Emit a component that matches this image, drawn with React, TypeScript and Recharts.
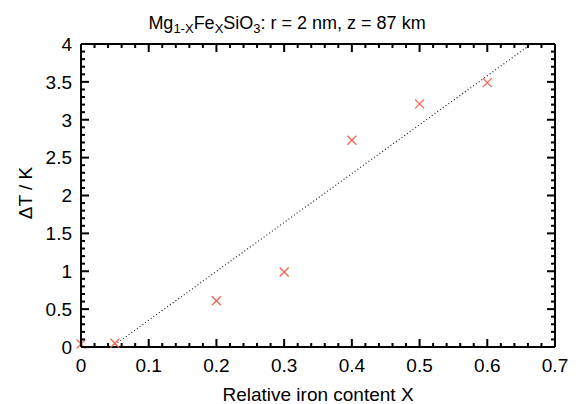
import React from 'react';
import { ComposedChart, Scatter, Line, XAxis, YAxis } from 'recharts';

// Measured points: relative iron content X vs temperature increase ΔT (K)
const ironContent = [0, 0.05, 0.2, 0.3, 0.4, 0.5, 0.6];
const deltaT = [0.04, 0.05, 0.61, 0.99, 2.73, 3.21, 3.49];

// Dotted linear fit (endpoints)
const fitX = [0.05, 0.665];
const fitY = [0.03, 4.0];

// Axis ticks
const xMajorTicks = [0, 0.1, 0.2, 0.3, 0.4, 0.5, 0.6, 0.7];
const yMajorTicks = [0, 0.5, 1, 1.5, 2, 2.5, 3, 3.5, 4];
const xMinorStep = 0.02;
const yMinorStep = 0.1;

const FONT = "'Liberation Sans', Arial, Helvetica, sans-serif";

const buildTicks = (majors: number[], step: number) => {
  const out: number[] = [];
  const max = majors[majors.length - 1];
  const n = Math.round(max / step);
  for (let i = 0; i <= n; i++) out.push(Math.round(i * step * 1000) / 1000);
  return out;
};
const xTicks = buildTicks(xMajorTicks, xMinorStep);
const yTicks = buildTicks(yMajorTicks, yMinorStep);
const isMajor = (v: number, majors: number[]) => majors.some((m) => Math.abs(m - v) < 1e-6);

const points = ironContent.map((x, i) => ({ x, y: deltaT[i] }));
const fitLine = fitX.map((x, i) => ({ x, y: fitY[i] }));

const MAJOR = 8;
const MINOR = 4;
const TICK_W = 2;
const TC = '#000';

const BottomTick = (props: any) => {
  const { x, y, payload } = props;
  const major = isMajor(payload.value, xMajorTicks);
  return (
    <g>
      <rect x={x - 1} y={y - (major ? MAJOR : MINOR)} width={TICK_W} height={major ? MAJOR : MINOR} fill={TC} />
      {major && (
        <text x={x} y={y + 24.5} textAnchor="middle" fontSize={19} fill="#000" stroke="none" fontFamily={FONT}>
          {String(Math.round(payload.value * 10) / 10)}
        </text>
      )}
    </g>
  );
};

const TopTick = (props: any) => {
  const { x, y, payload } = props;
  const major = isMajor(payload.value, xMajorTicks);
  return <rect x={x - 1} y={y} width={TICK_W} height={major ? MAJOR : MINOR} fill={TC} />;
};

const LeftTick = (props: any) => {
  const { x, y, payload } = props;
  const major = isMajor(payload.value, yMajorTicks);
  return (
    <g>
      <rect x={x} y={y - 1} width={major ? MAJOR : MINOR} height={TICK_W} fill={TC} />
      {major && (
        <text x={x - 9} y={y + 6.8} textAnchor="end" fontSize={19} fill="#000" stroke="none" fontFamily={FONT}>
          {String(Math.round(payload.value * 10) / 10)}
        </text>
      )}
    </g>
  );
};

const RightTick = (props: any) => {
  const { x, y, payload } = props;
  const major = isMajor(payload.value, yMajorTicks);
  return <rect x={x - (major ? MAJOR : MINOR)} y={y - 1} width={major ? MAJOR : MINOR} height={TICK_W} fill={TC} />;
};

const Cross = (props: any) => {
  const { cx, cy } = props;
  const s = 4.5;
  return (
    <g stroke="#f4664f" strokeWidth={1.3}>
      <line x1={cx - s} y1={cy - s} x2={cx + s} y2={cy + s} />
      <line x1={cx - s} y1={cy + s} x2={cx + s} y2={cy - s} />
    </g>
  );
};

export default function App() {
  return (
    <div style={{ position: 'absolute', left: 0, top: 0, width: 579, height: 404, background: '#fff' }}>
      <ComposedChart width={579} height={404} margin={{ top: 34, right: 14, bottom: 27, left: 21 }}>
        <XAxis xAxisId="bottom" dataKey="x" type="number" domain={[0, 0.7]} ticks={xTicks} interval={0}
          orientation="bottom" height={30} tickSize={0} tickMargin={0} tickLine={false}
          axisLine={{ stroke: '#000', strokeWidth: 2 }} tick={<BottomTick />} />
        <XAxis xAxisId="top" dataKey="x" type="number" domain={[0, 0.7]} ticks={xTicks} interval={0}
          orientation="top" height={10} tickSize={0} tickMargin={0} tickLine={false}
          axisLine={{ stroke: '#000', strokeWidth: 2 }} tick={<TopTick />} />
        <YAxis yAxisId="left" type="number" domain={[0, 4]} ticks={yTicks} interval={0}
          orientation="left" width={60} tickSize={0} tickMargin={0} tickLine={false}
          axisLine={{ stroke: '#000', strokeWidth: 2 }} tick={<LeftTick />} />
        <YAxis yAxisId="right" type="number" domain={[0, 4]} ticks={yTicks} interval={0}
          orientation="right" width={10} tickSize={0} tickMargin={0} tickLine={false}
          axisLine={{ stroke: '#000', strokeWidth: 2 }} tick={<RightTick />} />
        <Line data={fitLine} dataKey="y" xAxisId="top" yAxisId="right" type="linear" stroke="#222"
          strokeWidth={1.2} strokeDasharray="1 2.4" dot={false} activeDot={false} isAnimationActive={false} />
        <Scatter data={points} dataKey="y" xAxisId="bottom" yAxisId="left" shape={<Cross />} isAnimationActive={false} />
      </ComposedChart>
      <svg width={579} height={404} style={{ position: 'absolute', left: 0, top: 0, pointerEvents: 'none' }}>
        <text x={287} y={29} textAnchor="middle" fontSize={18} fill="#000" fontFamily={FONT}>
          Mg<tspan fontSize={13} dy={4}>1-X</tspan>
          <tspan dy={-4}>Fe</tspan>
          <tspan fontSize={13} dy={4}>X</tspan>
          <tspan dy={-4}>SiO</tspan>
          <tspan fontSize={13} dy={4}>3</tspan>
          <tspan dy={-4}>: r = 2 nm, z = 87 km</tspan>
        </text>
        <text x={318} y={401} textAnchor="middle" fontSize={19} fill="#000" fontFamily={FONT}>
          Relative iron content X
        </text>
        <text x={32} y={193} textAnchor="middle" fontSize={19} fill="#000" fontFamily={FONT}
          transform="rotate(-90, 32, 193)">
          ΔT / K
        </text>
      </svg>
    </div>
  );
}
